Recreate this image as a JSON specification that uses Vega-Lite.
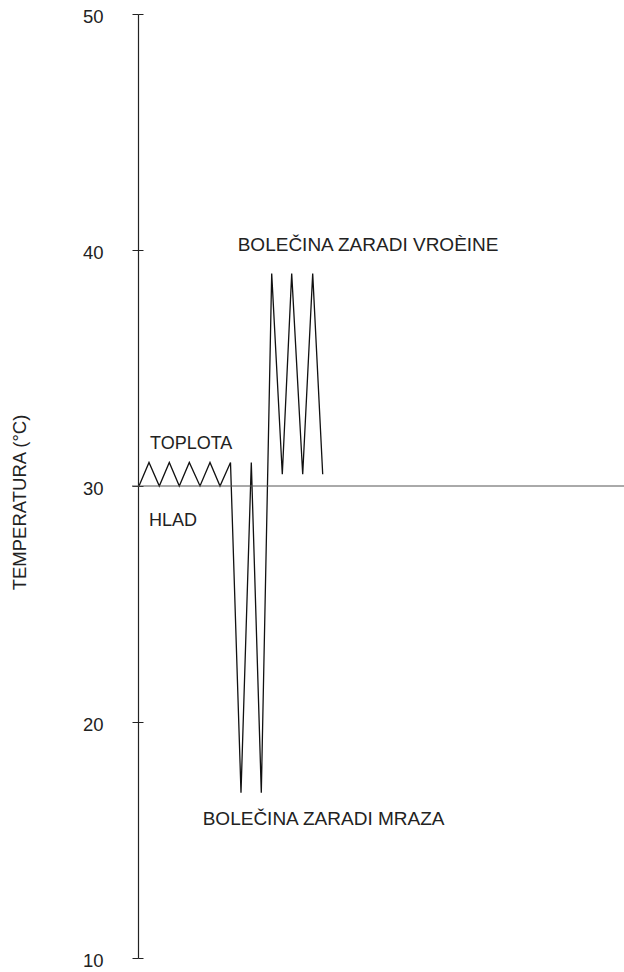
{
  "$schema": "https://vega.github.io/schema/vega-lite/v6.json",
  "width": 486,
  "height": 944,
  "autosize": {"type": "none"},
  "padding": {"left": 138, "top": 14, "right": 0, "bottom": 14},
  "background": "white",
  "config": {"view": {"stroke": null}, "font": "Liberation Sans"},
  "datasets": {
    "curve": [
      {"order": 1, "pos": 1, "temp": 30},
      {"order": 2, "pos": 11, "temp": 31},
      {"order": 3, "pos": 21.3, "temp": 30},
      {"order": 4, "pos": 31.3, "temp": 31},
      {"order": 5, "pos": 41.3, "temp": 30},
      {"order": 6, "pos": 51.3, "temp": 31},
      {"order": 7, "pos": 62, "temp": 30},
      {"order": 8, "pos": 72, "temp": 31},
      {"order": 9, "pos": 82, "temp": 30},
      {"order": 10, "pos": 92.5, "temp": 31},
      {"order": 11, "pos": 103, "temp": 17},
      {"order": 12, "pos": 113.3, "temp": 31},
      {"order": 13, "pos": 123.3, "temp": 17},
      {"order": 14, "pos": 133.7, "temp": 39},
      {"order": 15, "pos": 144.3, "temp": 30.5},
      {"order": 16, "pos": 153.7, "temp": 39},
      {"order": 17, "pos": 164.7, "temp": 30.5},
      {"order": 18, "pos": 174.7, "temp": 39},
      {"order": 19, "pos": 184.7, "temp": 30.5}
    ],
    "baseline": [{"pos": -6, "pos2": 486, "temp": 30}],
    "labels": [
      {"pos": 12, "temp": 31.57, "text": "TOPLOTA", "size": 18},
      {"pos": 11, "temp": 28.32, "text": "HLAD", "size": 18},
      {"pos": 64.7, "temp": 15.64, "text": "BOLEČINA ZARADI MRAZA", "size": 19},
      {"pos": 99.7, "temp": 39.97, "text": "BOLEČINA ZARADI VROÈINE", "size": 19}
    ]
  },
  "layer": [
    {
      "data": {"name": "curve"},
      "mark": {"type": "line", "color": "#111111", "strokeWidth": 1.3},
      "encoding": {
        "x": {"field": "pos", "type": "quantitative", "scale": {"domain": [0, 486], "nice": false, "zero": false}, "axis": null},
        "y": {
          "field": "temp", "type": "quantitative",
          "scale": {"domain": [10, 50], "nice": false, "zero": false},
          "axis": {
            "orient": "left",
            "values": [10, 20, 30, 40, 50],
            "title": "TEMPERATURA (°C)",
            "titleFont": "Liberation Sans",
            "titleFontSize": 18.5,
            "titleFontWeight": "normal",
            "titleColor": "#222222",
            "titleX": -113,
            "titleY": 488,
            "titleAngle": -90,
            "titleAlign": "center",
            "titleBaseline": "alphabetic",
            "labelFont": "Liberation Sans",
            "labelFontSize": 18.5,
            "labelColor": "#222222",
            "labelPadding": 29,
            "labelOffset": 2,
            "tickSize": 6,
            "tickColor": "#222222",
            "tickWidth": 1,
            "domainColor": "#222222",
            "domainWidth": 1.2,
            "grid": false
          }
        },
        "order": {"field": "order", "type": "quantitative"}
      }
    },
    {
      "data": {"name": "baseline"},
      "mark": {"type": "rule", "color": "#555555", "strokeWidth": 1},
      "encoding": {
        "x": {"field": "pos", "type": "quantitative"},
        "x2": {"field": "pos2"},
        "y": {
          "field": "temp", "type": "quantitative",
          "axis": {
            "orient": "left",
            "values": [10, 20, 30, 40, 50],
            "title": null,
            "labels": false,
            "domain": false,
            "grid": false,
            "offset": -5,
            "tickSize": 5,
            "tickColor": "#222222",
            "tickWidth": 1
          }
        }
      }
    },
    {
      "data": {"name": "labels"},
      "mark": {"type": "text", "align": "left", "baseline": "alphabetic", "font": "Liberation Sans", "color": "#222222"},
      "encoding": {
        "x": {"field": "pos", "type": "quantitative"},
        "y": {"field": "temp", "type": "quantitative", "axis": null},
        "text": {"field": "text"},
        "size": {"field": "size", "type": "quantitative", "scale": null}
      }
    }
  ],
  "resolve": {"axis": {"y": "independent"}}
}
